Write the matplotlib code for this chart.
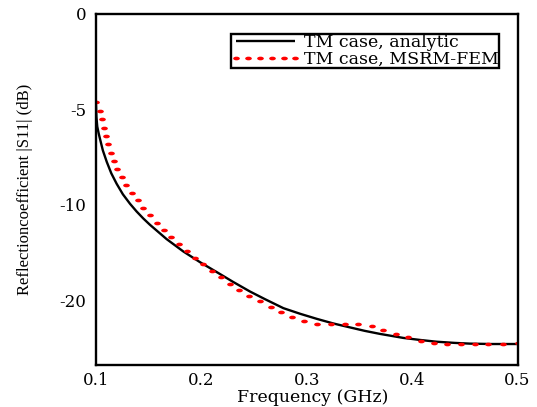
import matplotlib
matplotlib.use("Agg")
import matplotlib.pyplot as plt
from matplotlib.path import Path
from matplotlib.transforms import Affine2D

# Analytic (black) curve, in axis units (ticks placed at 0,-5,-10,-15 labelled 0,-5,-10,-20)
freq_analytic = [0.1000, 0.1004, 0.1012, 0.1025, 0.1038, 0.1065, 0.1102, 0.1145, 0.1196,
                 0.1255, 0.1323, 0.1385, 0.1449, 0.1512, 0.1670, 0.1829, 0.1990, 0.2146,
                 0.2300, 0.2462, 0.2604, 0.2778, 0.2940, 0.3095, 0.3250, 0.3411, 0.3550,
                 0.3695, 0.3916, 0.4080, 0.4233, 0.4400, 0.4549, 0.4750, 0.5000]
s11_analytic = [-4.75, -5.40, -5.90, -6.25, -6.55, -7.15, -7.75, -8.35, -8.90,
                -9.45, -9.95, -10.35, -10.72, -11.05, -11.80, -12.45, -13.02, -13.53,
                -14.04, -14.55, -14.95, -15.42, -15.72, -15.98, -16.22, -16.43, -16.61,
                -16.77, -16.98, -17.09, -17.18, -17.24, -17.28, -17.30, -17.30]

# MSRM-FEM (red dotted) curve
freq_fem = [0.1000, 0.1038, 0.1054, 0.1076, 0.1092, 0.1117, 0.1140, 0.1171, 0.1202,
            0.1244, 0.1285, 0.1339, 0.1396, 0.1449, 0.1512, 0.1576, 0.1645, 0.1715,
            0.1788, 0.1861, 0.1937, 0.2018, 0.2101, 0.2183, 0.2272, 0.2360, 0.2455,
            0.2556, 0.2658, 0.2756, 0.2863, 0.2974, 0.3100, 0.3227, 0.3360, 0.3486,
            0.3615, 0.3726, 0.3844, 0.3964, 0.4082, 0.4208, 0.4334, 0.4461, 0.4597,
            0.4723, 0.4860, 0.5000]
s11_fem = [-4.63, -5.08, -5.52, -5.96, -6.39, -6.83, -7.27, -7.70, -8.12,
           -8.54, -8.96, -9.37, -9.76, -10.15, -10.53, -10.93, -11.32, -11.69,
           -12.05, -12.42, -12.79, -13.12, -13.47, -13.80, -14.14, -14.47, -14.76,
           -15.02, -15.34, -15.62, -15.86, -16.11, -16.23, -16.26, -16.23, -16.23,
           -16.34, -16.56, -16.77, -16.94, -17.14, -17.26, -17.31, -17.31, -17.31,
           -17.31, -17.30, -17.26]

x_ticks = [0.1, 0.2, 0.3, 0.4, 0.5]
x_tick_labels = ["0.1", "0.2", "0.3", "0.4", "0.5"]
y_ticks = [0, -5, -10, -15]
y_tick_labels = ["0", "-5", "-10", "-20"]

plt.rcParams["font.family"] = ["DejaVu Serif"]

fig = plt.figure(figsize=(5.37, 4.07), dpi=100)
ax = fig.add_axes([96 / 537, 1 - 365 / 407, 421.5 / 537, 351 / 407])

dot = Path(Affine2D().scale(1.0, 0.55).transform(Path.unit_circle().vertices),
           Path.unit_circle().codes)

ax.plot(freq_analytic, s11_analytic, color="black", lw=1.7, label="TM case, analytic",
        solid_capstyle="butt")
ax.plot(freq_fem, s11_fem, ls="none", marker=dot, ms=4.8, color="red", mec="none",
        label="TM case, MSRM-FEM")

ax.set_xlim(0.1, 0.5)
ax.set_ylim(-18.4, 0)
ax.set_xticks(x_ticks)
ax.set_xticklabels(x_tick_labels)
ax.set_yticks(y_ticks)
ax.set_yticklabels(y_tick_labels)
ax.tick_params(length=0, labelsize=12)
ax.tick_params(axis="x", pad=5)
ax.tick_params(axis="y", pad=7)
for s in ax.spines.values():
    s.set_linewidth(1.7)

ax.set_xlabel("Frequency (GHz)", fontsize=12.5, va="center")
ax.xaxis.set_label_coords(0.515, -0.093)
ax.set_ylabel("Reflectioncoefficient |S11| (dB)", fontsize=12,
              family=["Liberation Serif"])
ax.yaxis.set_label_coords(-0.149, 0.5)

leg = ax.legend(loc="upper right", bbox_to_anchor=(0.956, 0.943), fontsize=12.5,
                frameon=True, fancybox=False, edgecolor="black", framealpha=1,
                handlelength=4.0, handletextpad=0.2, borderpad=0.0,
                labelspacing=0.0, borderaxespad=0, numpoints=6)
leg.get_frame().set_linewidth(1.7)

fig.savefig("out.png", dpi=100)
